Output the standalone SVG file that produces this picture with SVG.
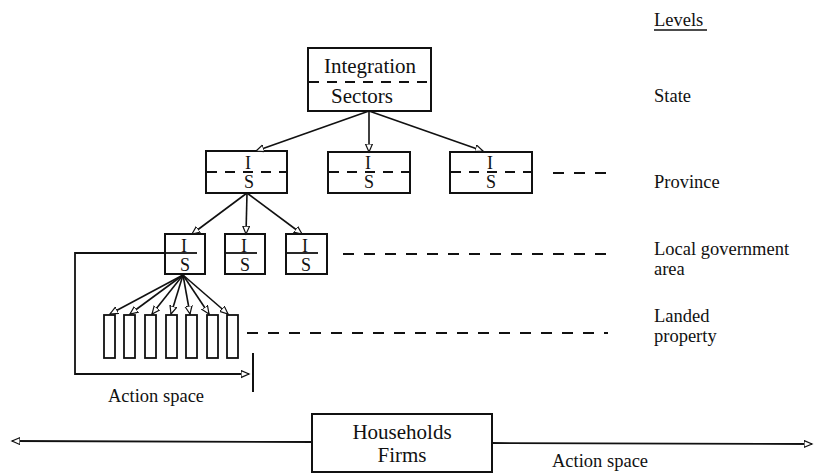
<svg xmlns="http://www.w3.org/2000/svg" width="814" height="473" viewBox="0 0 814 473">
  <style>
    .box { fill: #fff; stroke: #111; stroke-width: 2; }
    .bar { fill: #fff; stroke: #111; stroke-width: 1.8; }
    .lbl { font-family: "Liberation Serif", "Times New Roman", serif; font-size: 18.5px; fill: #111; }
    .big { font-family: "Liberation Serif", "Times New Roman", serif; font-size: 21px; fill: #111; text-anchor: middle; }
    .is { font-family: "Liberation Serif", "Times New Roman", serif; font-size: 18px; fill: #111; text-anchor: middle; }
    .mid { stroke: #111; stroke-width: 1.8; fill: none; }
    .dash { stroke: #111; stroke-width: 2; fill: none; stroke-dasharray: 10 8; }
    .lvl { stroke: #111; stroke-width: 2; fill: none; stroke-dasharray: 11 10; }
    .edge { stroke: #111; stroke-width: 1.6; fill: none; marker-end: url(#head); }
    .flow { stroke: #111; stroke-width: 1.8; fill: none; }
  </style>
  <defs>
    <marker id="head" markerUnits="userSpaceOnUse" markerWidth="12" markerHeight="12" refX="8" refY="4" orient="auto">
      <path d="M0,0.5 L8,4 L0,7.5 Z" fill="#fff" stroke="#111" stroke-width="1.2"/>
    </marker>
  </defs>

  <!-- Level captions -->
  <g id="levels">
    <text class="lbl" x="654" y="26">Levels</text>
    <line x1="654" y1="30" x2="707" y2="30" stroke="#111" stroke-width="1.6"/>
    <text class="lbl" x="654" y="102">State</text>
    <text class="lbl" x="654" y="188">Province</text>
    <text class="lbl" x="654" y="255">Local government</text>
    <text class="lbl" x="654" y="275">area</text>
    <text class="lbl" x="654" y="322">Landed</text>
    <text class="lbl" x="654" y="342">property</text>
  </g>

  <!-- State node -->
  <g id="state">
    <rect class="box" x="308" y="48" width="123" height="63"/>
    <line class="dash" x1="309" y1="82" x2="431" y2="82"/>
    <text class="big" x="370" y="73">Integration</text>
    <text class="big" x="362" y="103">Sectors</text>
  </g>

  <!-- Province nodes -->
  <g id="province-1">
    <rect class="box" x="206" y="151" width="81" height="42"/>
    <line class="dash" x1="207" y1="172" x2="287" y2="172" stroke-dasharray="9 6"/>
    <text class="is" x="248" y="169">I</text>
    <text class="is" x="249" y="188">S</text>
  </g>
  <g id="province-2">
    <rect class="box" x="328" y="152" width="82" height="41"/>
    <line class="dash" x1="329" y1="172" x2="410" y2="172" stroke-dasharray="9 6"/>
    <text class="is" x="368" y="169">I</text>
    <text class="is" x="369" y="188">S</text>
  </g>
  <g id="province-3">
    <rect class="box" x="450" y="152" width="82" height="41"/>
    <line class="dash" x1="451" y1="172" x2="532" y2="172" stroke-dasharray="9 6"/>
    <text class="is" x="490" y="169">I</text>
    <text class="is" x="491" y="188">S</text>
  </g>

  <!-- Local government area nodes -->
  <g id="lga-1">
    <rect class="box" x="165" y="234" width="40" height="40"/>
    <line class="mid" x1="165" y1="253" x2="197" y2="253"/>
    <text class="is" x="184" y="252" font-size="17">I</text>
    <text class="is" x="185" y="271" font-size="17">S</text>
  </g>
  <g id="lga-2">
    <rect class="box" x="225" y="234" width="40" height="40"/>
    <line class="mid" x1="225" y1="253" x2="257" y2="253"/>
    <text class="is" x="244" y="252" font-size="17">I</text>
    <text class="is" x="245" y="271" font-size="17">S</text>
  </g>
  <g id="lga-3">
    <rect class="box" x="286" y="234" width="41" height="40"/>
    <line class="mid" x1="286" y1="253" x2="318" y2="253"/>
    <text class="is" x="305" y="252" font-size="17">I</text>
    <text class="is" x="306" y="271" font-size="17">S</text>
  </g>

  <!-- Landed property parcels -->
  <g id="parcels">
    <rect class="bar" x="104" y="315" width="11" height="43"/>
    <rect class="bar" x="124" y="315" width="11" height="43"/>
    <rect class="bar" x="145" y="315" width="11" height="43"/>
    <rect class="bar" x="166" y="315" width="11" height="43"/>
    <rect class="bar" x="186" y="315" width="11" height="43"/>
    <rect class="bar" x="207" y="315" width="11" height="43"/>
    <rect class="bar" x="227" y="315" width="11" height="43"/>
  </g>

  <!-- Households and firms -->
  <g id="households">
    <rect class="box" x="312" y="414" width="180" height="58"/>
    <text class="big" x="402" y="439">Households</text>
    <text class="big" x="402" y="462">Firms</text>
  </g>

  <!-- Connectors -->
  <g id="connectors">
    <!-- state to provinces -->
    <line class="edge" x1="369" y1="111" x2="256" y2="151"/>
    <line class="edge" x1="369" y1="111" x2="369" y2="152"/>
    <line class="edge" x1="369" y1="111" x2="483" y2="151"/>
    <!-- province to local government areas -->
    <line class="edge" x1="247" y1="193" x2="192" y2="234"/>
    <line class="edge" x1="247" y1="193" x2="246" y2="234"/>
    <line class="edge" x1="247" y1="193" x2="302" y2="234"/>
    <!-- local government area to parcels -->
    <line class="edge" x1="183" y1="275" x2="110" y2="314"/>
    <line class="edge" x1="183" y1="275" x2="130" y2="314"/>
    <line class="edge" x1="183" y1="275" x2="152" y2="314"/>
    <line class="edge" x1="183" y1="275" x2="171" y2="314"/>
    <line class="edge" x1="183" y1="275" x2="190" y2="314"/>
    <line class="edge" x1="183" y1="275" x2="209" y2="314"/>
    <line class="edge" x1="183" y1="275" x2="228" y2="314"/>

    <!-- level guide lines -->
    <line class="lvl" x1="553" y1="173" x2="608" y2="173"/>
    <line class="lvl" x1="343" y1="254" x2="608" y2="254"/>
    <line class="lvl" x1="247" y1="333" x2="608" y2="333"/>

    <!-- local action space -->
    <path class="flow" d="M165,253 H75 V374 H249" marker-end="url(#head)"/>
    <line x1="253" y1="353" x2="253" y2="392" stroke="#111" stroke-width="2"/>

    <!-- wider action space -->
    <line class="flow" x1="312" y1="442" x2="12" y2="441" marker-end="url(#head)"/>
    <line class="flow" x1="492" y1="443" x2="812" y2="444" marker-end="url(#head)"/>
  </g>

  <text class="lbl" x="108" y="402">Action space</text>
  <text class="lbl" x="552" y="467">Action space</text>
</svg>
